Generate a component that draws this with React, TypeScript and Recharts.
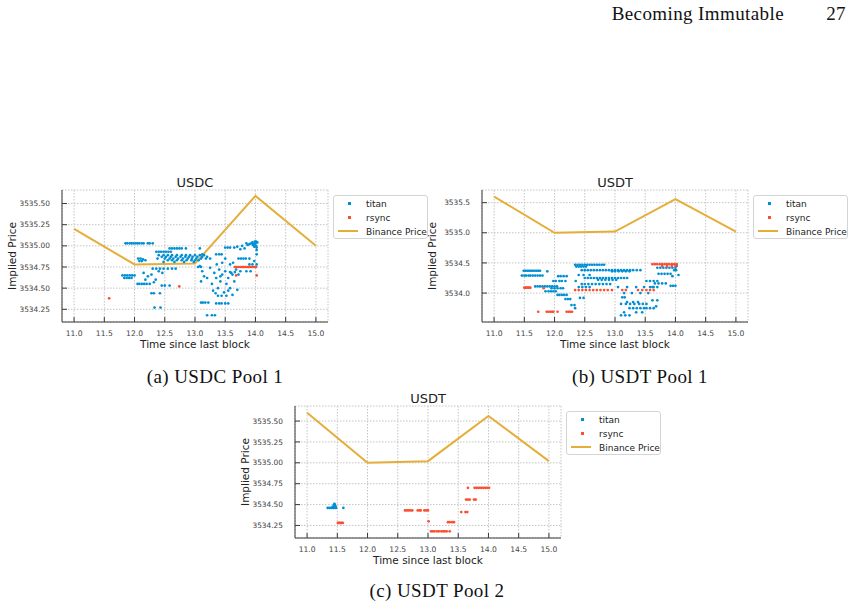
import { ComposedChart, Scatter, Line, XAxis, YAxis, CartesianGrid } from 'recharts';

// Block-time axis shared by every panel
const xTicks = [11, 11.5, 12, 12.5, 13, 13.5, 14, 14.5, 15];
const yTicksQuarter = [3534.25, 3534.5, 3534.75, 3535, 3535.25, 3535.5];
const yTicksHalf = [3534, 3534.5, 3535, 3535.5];

// Binance reference price sampled once per second
const binanceTimes = [11, 12, 13, 14, 15];
const usdcBinance = [3535.2, 3534.78, 3534.79, 3535.59, 3535.0];
const usdtBinance = [3535.6, 3535.0, 3535.02, 3535.56, 3535.02];

// USDC pool 1, implied price per builder [time, price]
const usdcTitan: [number, number][] = [
  [11.85, 3535.03], [11.88, 3535.03], [11.92, 3535.03], [11.95, 3535.03], [11.98, 3535.03], [12.02, 3535.03],
  [12.05, 3535.03], [12.08, 3535.03], [12.12, 3535.03], [12.15, 3535.03], [12.22, 3535.03], [12.25, 3535.03], [12.3, 3535.03],
  [12.58, 3534.97], [12.62, 3534.97], [12.66, 3534.97], [12.7, 3534.97], [12.74, 3534.97], [12.78, 3534.97], [12.85, 3534.97],
  [12.36, 3534.93], [12.4, 3534.93], [12.44, 3534.93], [12.48, 3534.93], [12.52, 3534.93], [12.56, 3534.93], [12.6, 3534.93],
  [12.4, 3534.89], [12.48, 3534.89], [12.55, 3534.89], [12.62, 3534.89], [12.7, 3534.89], [12.78, 3534.89], [12.85, 3534.89],
  [12.92, 3534.89], [13.0, 3534.89], [13.08, 3534.89], [13.15, 3534.89],
  [12.45, 3534.87], [12.52, 3534.87], [12.6, 3534.87], [12.68, 3534.87], [12.76, 3534.87], [12.84, 3534.87], [12.9, 3534.87],
  [12.96, 3534.87], [13.04, 3534.87], [13.12, 3534.87], [13.2, 3534.87],
  [12.38, 3534.85], [12.5, 3534.85], [12.58, 3534.85], [12.64, 3534.85], [12.72, 3534.85], [12.8, 3534.85], [12.88, 3534.85],
  [12.95, 3534.85], [13.02, 3534.85], [13.1, 3534.85], [13.18, 3534.85], [13.25, 3534.85],
  [12.55, 3534.83], [12.62, 3534.83], [12.7, 3534.83], [12.78, 3534.83], [12.86, 3534.83], [12.94, 3534.83], [13.0, 3534.83], [13.06, 3534.83],
  [12.48, 3534.81], [12.66, 3534.81], [12.82, 3534.81], [12.98, 3534.81],
  [12.06, 3534.85], [12.1, 3534.85], [12.14, 3534.84], [12.08, 3534.82], [12.12, 3534.82], [12.18, 3534.83],
  [11.8, 3534.65], [11.84, 3534.65], [11.88, 3534.65], [11.92, 3534.65], [11.96, 3534.65], [12.0, 3534.65],
  [11.83, 3534.62], [11.87, 3534.62], [11.91, 3534.62], [11.95, 3534.62],
  [12.3, 3534.73], [12.36, 3534.73], [12.42, 3534.73], [12.48, 3534.73], [12.55, 3534.73], [12.62, 3534.73], [12.68, 3534.73],
  [12.15, 3534.68], [12.22, 3534.64], [12.28, 3534.66], [12.35, 3534.6], [12.4, 3534.7], [12.18, 3534.6], [12.32, 3534.57], [12.46, 3534.68],
  [12.05, 3534.55], [12.08, 3534.55], [12.12, 3534.55], [12.16, 3534.55], [12.2, 3534.55], [12.25, 3534.55],
  [12.45, 3534.53], [12.5, 3534.53], [12.58, 3534.53],
  [12.28, 3534.44], [12.32, 3534.44], [12.42, 3534.44],
  [12.33, 3534.27], [12.43, 3534.27],
  [13.05, 3534.75], [13.1, 3534.75], [13.08, 3534.97], [13.12, 3534.9],
  [13.08, 3534.76], [13.12, 3534.7], [13.15, 3534.64], [13.1, 3534.58], [13.2, 3534.62], [13.25, 3534.74], [13.28, 3534.55],
  [13.32, 3534.68], [13.35, 3534.62], [13.38, 3534.5], [13.4, 3534.72], [13.42, 3534.58], [13.45, 3534.66], [13.48, 3534.45],
  [13.5, 3534.7], [13.52, 3534.55], [13.55, 3534.62], [13.58, 3534.5], [13.6, 3534.68], [13.62, 3534.42], [13.65, 3534.58],
  [13.68, 3534.72], [13.7, 3534.48], [13.34, 3534.44], [13.38, 3534.41], [13.44, 3534.41], [13.52, 3534.41], [13.3, 3534.47],
  [13.55, 3534.47], [13.62, 3534.66], [13.66, 3534.69], [13.58, 3534.69], [13.72, 3534.66], [13.42, 3534.64], [13.36, 3534.78],
  [13.45, 3534.8], [13.5, 3534.85], [13.58, 3534.78], [13.63, 3534.8],
  [13.1, 3534.33], [13.13, 3534.33], [13.17, 3534.33], [13.22, 3534.33],
  [13.35, 3534.32], [13.4, 3534.32], [13.44, 3534.32], [13.5, 3534.32], [13.55, 3534.32],
  [13.2, 3534.18], [13.28, 3534.18], [13.33, 3534.18],
  [13.5, 3534.98], [13.54, 3534.98], [13.58, 3534.98], [13.35, 3534.9], [13.4, 3534.9], [13.44, 3534.9],
  [13.65, 3534.98], [13.7, 3534.99], [13.78, 3535.0], [13.82, 3534.97], [13.85, 3535.03], [13.87, 3535.01], [13.9, 3535.02],
  [13.93, 3535.03], [13.95, 3535.04], [13.96, 3535.01], [13.97, 3535.02], [13.98, 3534.99], [13.99, 3535.05], [14.0, 3535.03],
  [14.01, 3535.0], [14.01, 3535.05], [14.02, 3534.98], [14.03, 3535.04], [13.75, 3534.96], [14.02, 3534.95],
  [13.72, 3534.85], [13.76, 3534.85], [13.8, 3534.85], [13.84, 3534.85], [13.9, 3534.85],
  [13.9, 3534.78], [13.95, 3534.78], [14.02, 3534.78], [13.75, 3534.7], [13.85, 3534.7], [13.92, 3534.7],
  [14.02, 3534.9], [13.98, 3534.82],
];

const usdcRsync: [number, number][] = [
  [11.58, 3534.38], [12.74, 3534.52],
  [13.66, 3534.75], [13.69, 3534.75], [13.72, 3534.75], [13.75, 3534.75], [13.78, 3534.75], [13.8, 3534.75], [13.83, 3534.75],
  [13.86, 3534.75], [13.88, 3534.75], [13.91, 3534.75], [13.94, 3534.75], [13.96, 3534.75], [13.99, 3534.75], [14.01, 3534.75],
  [13.68, 3534.65], [14.02, 3534.65],
];

// USDT pool 1
const usdtTitan: [number, number][] = [
  [11.49, 3534.37], [11.52, 3534.37], [11.55, 3534.37], [11.58, 3534.37], [11.61, 3534.37], [11.64, 3534.37], [11.67, 3534.37],
  [11.7, 3534.37], [11.73, 3534.37], [11.76, 3534.37],
  [11.46, 3534.29], [11.5, 3534.29], [11.53, 3534.29], [11.57, 3534.29], [11.6, 3534.29], [11.64, 3534.29], [11.68, 3534.29],
  [11.72, 3534.29], [11.76, 3534.29], [11.8, 3534.29],
  [11.68, 3534.11], [11.72, 3534.11], [11.76, 3534.11], [11.8, 3534.11], [11.84, 3534.11], [11.88, 3534.11], [11.92, 3534.11],
  [11.96, 3534.11], [12.0, 3534.11], [12.04, 3534.11],
  [11.85, 3534.03], [11.9, 3534.03], [11.94, 3534.03], [11.98, 3534.03], [12.02, 3534.03],
  [11.95, 3534.08], [12.0, 3534.08], [12.05, 3534.08], [12.1, 3534.08], [12.14, 3534.08],
  [11.98, 3534.2], [12.02, 3534.2], [12.08, 3534.2], [12.12, 3534.2], [12.18, 3534.2],
  [12.06, 3534.28], [12.1, 3534.28], [12.15, 3534.28], [12.2, 3534.28], [11.88, 3534.36],
  [12.05, 3533.97], [12.08, 3533.97], [12.12, 3533.97], [12.16, 3533.97], [12.2, 3533.97],
  [12.18, 3533.9], [12.22, 3533.9], [12.26, 3533.9], [12.28, 3533.8], [12.33, 3533.8], [12.34, 3533.75],
  [12.34, 3534.47], [12.38, 3534.47], [12.42, 3534.47], [12.46, 3534.47], [12.5, 3534.47], [12.54, 3534.47], [12.58, 3534.47],
  [12.62, 3534.47], [12.66, 3534.47], [12.7, 3534.47], [12.74, 3534.47], [12.78, 3534.47], [12.82, 3534.47],
  [12.36, 3534.44], [12.4, 3534.44], [12.44, 3534.44], [12.48, 3534.44], [12.52, 3534.44],
  [12.45, 3534.38], [12.5, 3534.38], [12.55, 3534.38], [12.6, 3534.38], [12.65, 3534.38], [12.7, 3534.38], [12.75, 3534.38],
  [12.8, 3534.38], [12.85, 3534.38], [12.9, 3534.38], [12.95, 3534.38], [13.0, 3534.38], [13.05, 3534.38], [13.1, 3534.38],
  [13.15, 3534.38], [13.2, 3534.38], [13.25, 3534.38], [13.3, 3534.38], [13.36, 3534.38], [13.42, 3534.38],
  [12.95, 3534.36], [13.0, 3534.36], [13.06, 3534.36], [13.12, 3534.36], [13.18, 3534.36], [13.24, 3534.36],
  [12.5, 3534.25], [12.55, 3534.25], [12.6, 3534.25], [12.65, 3534.25], [12.7, 3534.25], [12.75, 3534.25], [12.8, 3534.25],
  [12.85, 3534.25], [12.9, 3534.25], [12.95, 3534.25], [13.0, 3534.25], [13.05, 3534.25], [13.1, 3534.25], [13.15, 3534.25], [13.2, 3534.25],
  [12.72, 3534.22], [12.78, 3534.22], [12.84, 3534.22], [12.9, 3534.22], [12.96, 3534.22], [13.02, 3534.22],
  [12.45, 3534.15], [12.5, 3534.15], [12.56, 3534.15], [12.62, 3534.15], [12.68, 3534.15], [12.74, 3534.15], [12.8, 3534.15],
  [12.86, 3534.15], [12.92, 3534.15],
  [12.4, 3534.1], [12.46, 3534.1], [12.52, 3534.1], [12.58, 3534.1],
  [12.4, 3534.3], [12.48, 3534.3], [12.58, 3534.3], [12.35, 3534.2], [12.42, 3533.92], [12.48, 3533.92],
  [13.12, 3533.93], [13.16, 3533.93], [13.2, 3533.85], [13.3, 3533.85], [13.38, 3533.85],
  [13.1, 3533.82], [13.18, 3533.82], [13.25, 3533.82], [13.32, 3533.82], [13.4, 3533.82], [13.46, 3533.82], [13.52, 3533.82],
  [13.24, 3533.75], [13.3, 3533.75], [13.36, 3533.75], [13.42, 3533.75], [13.48, 3533.75], [13.52, 3533.75], [13.58, 3533.75], [13.64, 3533.75],
  [13.15, 3533.68], [13.35, 3533.68], [13.45, 3533.68], [13.1, 3533.63], [13.17, 3533.63], [13.24, 3533.63],
  [13.15, 3534.0], [13.28, 3534.0], [13.42, 3534.0], [13.55, 3534.0],
  [13.05, 3534.1], [13.2, 3534.1], [13.35, 3534.1], [13.48, 3534.1], [13.62, 3534.1],
  [13.62, 3533.88], [13.7, 3533.88], [13.68, 3533.78],
  [13.7, 3534.42], [13.75, 3534.42], [13.8, 3534.42], [13.85, 3534.42], [13.9, 3534.42], [13.95, 3534.42], [14.0, 3534.42],
  [13.72, 3534.32], [13.77, 3534.32], [13.82, 3534.32], [13.87, 3534.32], [13.92, 3534.32],
  [13.52, 3534.2], [13.58, 3534.2], [13.64, 3534.2], [13.7, 3534.2],
  [13.66, 3534.16], [13.72, 3534.16], [13.78, 3534.16], [13.84, 3534.16],
  [13.92, 3534.12], [13.96, 3534.12], [14.0, 3534.12], [13.58, 3534.1], [13.64, 3534.1], [13.7, 3534.1],
  [14.01, 3534.38], [13.98, 3534.38], [14.05, 3534.3], [13.95, 3534.28], [14.02, 3534.45],
];

const usdtRsync: [number, number][] = [
  [11.5, 3534.09], [11.52, 3534.09], [11.54, 3534.09], [11.56, 3534.09], [11.58, 3534.09], [11.6, 3534.09],
  [11.82, 3534.08],
  [11.73, 3533.69], [11.87, 3533.69], [11.9, 3533.69], [11.93, 3533.69], [11.96, 3533.69], [11.98, 3533.69], [12.05, 3533.69],
  [12.2, 3533.69], [12.23, 3533.69], [12.26, 3533.69], [12.29, 3533.69],
  [12.34, 3534.05], [12.4, 3534.05], [12.46, 3534.05], [12.52, 3534.05], [12.58, 3534.05], [12.64, 3534.05], [12.7, 3534.05],
  [12.76, 3534.05], [12.82, 3534.05], [12.88, 3534.05], [12.95, 3534.05], [13.12, 3534.05], [13.18, 3534.05], [13.38, 3534.05],
  [13.45, 3534.05], [13.52, 3534.05], [13.58, 3534.05], [13.64, 3534.05],
  [13.62, 3534.48], [13.66, 3534.48], [13.7, 3534.48], [13.74, 3534.48], [13.78, 3534.48], [13.82, 3534.48], [13.86, 3534.48],
  [13.9, 3534.48], [13.94, 3534.48], [13.98, 3534.48], [14.02, 3534.48],
  [13.78, 3534.45], [13.86, 3534.45], [13.94, 3534.45], [14.0, 3534.45],
];

// USDT pool 2
const pool2Titan: [number, number][] = [
  [11.34, 3534.46], [11.37, 3534.46], [11.4, 3534.46], [11.42, 3534.47], [11.43, 3534.46], [11.44, 3534.49], [11.45, 3534.51],
  [11.46, 3534.5], [11.46, 3534.46], [11.47, 3534.48], [11.48, 3534.46], [11.6, 3534.46],
];

const pool2Rsync: [number, number][] = [
  [11.51, 3534.28], [11.53, 3534.28], [11.55, 3534.28], [11.57, 3534.28], [11.59, 3534.28],
  [12.62, 3534.43], [12.65, 3534.43], [12.68, 3534.43], [12.71, 3534.43], [12.74, 3534.43], [12.83, 3534.43], [12.86, 3534.43],
  [12.88, 3534.43], [12.94, 3534.43], [12.97, 3534.43], [13.0, 3534.43],
  [13.01, 3534.3],
  [13.05, 3534.18], [13.08, 3534.18], [13.11, 3534.18], [13.15, 3534.18], [13.18, 3534.18], [13.22, 3534.18], [13.25, 3534.18],
  [13.28, 3534.18], [13.31, 3534.18], [13.36, 3534.18],
  [13.33, 3534.29], [13.36, 3534.29], [13.4, 3534.29], [13.43, 3534.29],
  [13.55, 3534.41], [13.62, 3534.41], [13.65, 3534.41],
  [13.63, 3534.56], [13.66, 3534.56], [13.69, 3534.56], [13.76, 3534.56], [13.79, 3534.56],
  [13.66, 3534.7], [13.77, 3534.7], [13.8, 3534.7], [13.83, 3534.7], [13.86, 3534.7], [13.89, 3534.7], [13.92, 3534.7],
  [13.95, 3534.7], [13.98, 3534.7], [14.01, 3534.7],
];

const BLUE = '#008fd5';
const RED = '#fc4f30';
const GOLD = '#e5ae38';
const AXIS = '#3a3a3a';
const SANS = '"DejaVu Sans", sans-serif';
const SERIF = '"Liberation Serif", serif';

const toPoints = (rows: [number, number][]) => rows.map(([x, y]) => ({ x, y }));

const dot = (color: string) => (props: any) => (
  <circle cx={props.cx} cy={props.cy} r={1.35} fill={color} />
);

const XTick = ({ x, y, payload }: any) => (
  <g>
    <line x1={x} x2={x} y1={y} y2={y - 5} stroke={AXIS} strokeWidth={1} />
    <text x={x} y={y + 14} textAnchor="middle" fontSize={7.6} fontFamily={SANS} fill="#444">
      {payload.value.toFixed(1)}
    </text>
  </g>
);

const YTick = ({ x, y, payload, digits }: any) => (
  <g>
    <line x1={x} x2={x + 5} y1={y} y2={y} stroke={AXIS} strokeWidth={1} />
    <text x={x - 12} y={y} dy="0.35em" textAnchor="end" fontSize={7.4} fontFamily={SANS} fill="#444">
      {payload.value.toFixed(digits)}
    </text>
  </g>
);

function LegendBox() {
  const row = (top: number): React.CSSProperties => ({ position: 'absolute', left: 32, top, lineHeight: '12px' });
  return (
    <div
      style={{
        position: 'absolute', left: 333, top: 25, width: 95, height: 44, boxSizing: 'border-box',
        border: '1px solid #d4d4d4', borderRadius: 3, background: '#fff', fontFamily: SANS, fontSize: 9, color: '#222',
      }}
    >
      <div style={{ position: 'absolute', left: 14, top: 6, width: 2.5, height: 2.5, background: BLUE }} />
      <div style={row(2)}>titan</div>
      <div style={{ position: 'absolute', left: 14, top: 20, width: 2.5, height: 2.5, background: RED }} />
      <div style={row(16)}>rsync</div>
      <div style={{ position: 'absolute', left: 4, top: 34, width: 20, height: 2, background: GOLD }} />
      <div style={row(30)}>Binance Price</div>
    </div>
  );
}

interface PanelProps {
  left: number;
  top: number;
  title: string;
  titan: [number, number][];
  rsync: [number, number][];
  binance: number[];
  yDomain: [number, number];
  yTicks: number[];
  digits: number;
}

function Panel({ left, top, title, titan, rsync, binance, yDomain, yTicks, digits }: PanelProps) {
  const binanceLine = binanceTimes.map((x, i) => ({ x, y: binance[i] }));
  return (
    <div style={{ position: 'absolute', left, top, width: 430, height: 200 }}>
      <div style={{ position: 'absolute', left: 62, top: 4, width: 266, textAlign: 'center', fontFamily: SANS, fontSize: 13, lineHeight: '18px', color: '#222' }}>
        {title}
      </div>
      <div
        style={{
          position: 'absolute', left: -38, top: 79, width: 100, height: 14, lineHeight: '14px', textAlign: 'center',
          transform: 'rotate(-90deg)', fontFamily: SANS, fontSize: 10.5, color: '#222',
        }}
      >
        Implied Price
      </div>
      <div style={{ position: 'absolute', left: 62, top: 167, width: 266, textAlign: 'center', fontFamily: SANS, fontSize: 10.5, lineHeight: '14px', color: '#222' }}>
        Time since last block
      </div>
      <ComposedChart width={330} height={200} margin={{ top: 20, right: 2, left: 0, bottom: 0 }}>
        <CartesianGrid stroke="#c4c4c4" strokeDasharray="1.5 1.5" />
        <XAxis
          type="number" dataKey="x" domain={[10.8, 15.2]} ticks={xTicks} interval={0} allowDataOverflow
          height={48} tickSize={0} tickMargin={0} tickLine={false} axisLine={{ stroke: AXIS }}
          tick={(p: any) => <XTick {...p} />}
        />
        <YAxis
          type="number" dataKey="y" domain={yDomain} ticks={yTicks} interval={0} allowDataOverflow
          width={62} tickSize={0} tickMargin={0} tickLine={false} axisLine={{ stroke: AXIS }}
          tick={(p: any) => <YTick {...p} digits={digits} />}
        />
        <Scatter name="titan" data={toPoints(titan)} fill={BLUE} shape={dot(BLUE)} isAnimationActive={false} />
        <Scatter name="rsync" data={toPoints(rsync)} fill={RED} shape={dot(RED)} isAnimationActive={false} />
        <Line
          name="Binance Price" data={binanceLine} dataKey="y" type="linear" stroke={GOLD} strokeWidth={2}
          dot={false} activeDot={false} isAnimationActive={false}
        />
      </ComposedChart>
      <LegendBox />
    </div>
  );
}

const caption: React.CSSProperties = {
  position: 'absolute', fontFamily: SERIF, fontSize: 19, letterSpacing: 0.4, lineHeight: '22px', textAlign: 'center', color: '#111',
};

export default function App() {
  return (
    <div style={{ position: 'absolute', left: 0, top: 0, width: 860, height: 609, background: '#fff', overflow: 'hidden' }}>
      <div style={{ ...caption, left: 560, top: 3, width: 224, textAlign: 'right' }}>Becoming Immutable</div>
      <div style={{ ...caption, left: 800, top: 3, width: 46, textAlign: 'right' }}>27</div>

      <Panel left={0} top={170} title="USDC" titan={usdcTitan} rsync={usdcRsync} binance={usdcBinance}
        yDomain={[3534.1, 3535.66]} yTicks={yTicksQuarter} digits={2} />
      <Panel left={420} top={170} title="USDT" titan={usdtTitan} rsync={usdtRsync} binance={usdtBinance}
        yDomain={[3533.52, 3535.71]} yTicks={yTicksHalf} digits={1} />
      <Panel left={233} top={386} title="USDT" titan={pool2Titan} rsync={pool2Rsync} binance={usdtBinance}
        yDomain={[3534.1, 3535.68]} yTicks={yTicksQuarter} digits={2} />

      <div style={{ ...caption, left: 115, top: 366, width: 200 }}>(a) USDC Pool 1</div>
      <div style={{ ...caption, left: 540, top: 366, width: 200 }}>(b) USDT Pool 1</div>
      <div style={{ ...caption, left: 337, top: 580, width: 200 }}>(c) USDT Pool 2</div>
    </div>
  );
}
